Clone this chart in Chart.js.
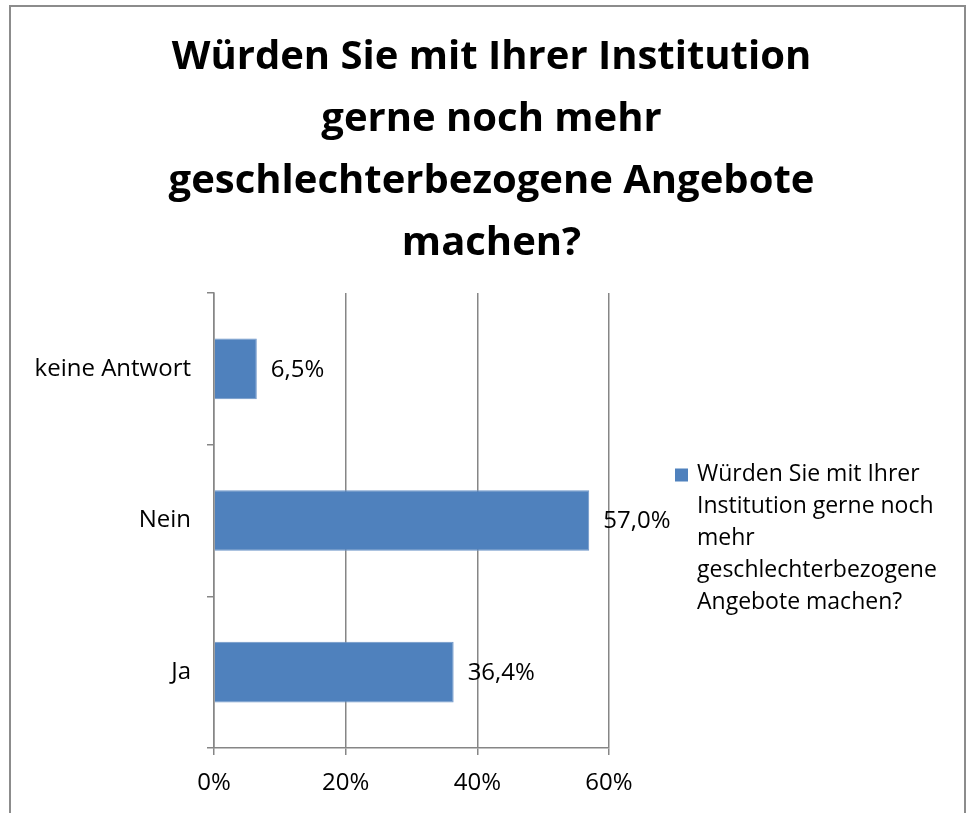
<!DOCTYPE html>
<html>
<head>
<meta charset="utf-8">
<script src="https://cdn.jsdelivr.net/npm/chart.js@4.4.0/dist/chart.umd.min.js"></script>
<style>
  html, body { margin: 0; padding: 0; background: #fff; overflow: hidden; }
  #box { position: absolute; left: 9px; top: 5px; width: 953px; height: 830px; border: 2px solid #8c8c8c; background: #fff; }
  canvas { display: block; }
</style>
</head>
<body>
<div id="box"><canvas id="chart" width="953" height="806"></canvas></div>
<script>
const titleLines = ["Würden Sie mit Ihrer Institution", "gerne noch mehr", "geschlechterbezogene Angebote", "machen?"];
const categories = ["keine Antwort", "Nein", "Ja"];
const values = [6.5, 57.0, 36.4];
const seriesName = "Würden Sie mit Ihrer Institution gerne noch mehr geschlechterbezogene Angebote machen?";
const legendLines = ["Würden Sie mit Ihrer", "Institution gerne noch", "mehr", "geschlechterbezogene", "Angebote machen?"];
const xTicks = [0, 20, 40, 60];

const FONT = "'Open Sans', 'Noto Sans', sans-serif";
const GRID = "#868686";
const BAR = "#4f81bd";

const fmt = (v) => v.toFixed(1).replace(".", ",") + "%";

// value labels right of each bar
const valueLabels = {
  id: "valueLabels",
  afterDatasetsDraw(chart) {
    const ctx = chart.ctx;
    const meta = chart.getDatasetMeta(0);
    ctx.save();
    ctx.font = "24px " + FONT;
    ctx.fillStyle = "#000";
    ctx.textBaseline = "middle";
    ctx.textAlign = "left";
    meta.data.forEach((bar, i) => {
      ctx.fillText(fmt(chart.data.datasets[0].data[i]), bar.x + 14, bar.y + 1);
    });
    ctx.restore();
  },
};

// legend with wrapped text on the right
const sideLegend = {
  id: "sideLegend",
  afterDraw(chart) {
    const ctx = chart.ctx;
    const a = chart.chartArea;
    const x = a.right + 66;
    const y = (a.top + a.bottom) / 2 - 46;
    ctx.save();
    ctx.fillStyle = BAR;
    ctx.fillRect(x, y - 6, 13, 13);
    ctx.font = "23px " + FONT;
    ctx.fillStyle = "#000";
    ctx.textBaseline = "middle";
    legendLines.forEach((line, i) => {
      ctx.fillText(line, x + 22, y + i * 32);
    });
    ctx.restore();
  },
};

new Chart(document.getElementById("chart"), {
  type: "bar",
  data: {
    labels: categories,
    datasets: [
      {
        label: seriesName,
        data: values,
        backgroundColor: BAR,
        borderColor: "#6d95c8",
        borderWidth: 1,
        barPercentage: 0.4,
        categoryPercentage: 1,
      },
    ],
  },
  options: {
    indexAxis: "y",
    responsive: false,
    animation: false,
    layout: { padding: { left: 8 } },
    plugins: {
      legend: { display: false },
      tooltip: { enabled: false },
      title: {
        display: true,
        text: titleLines,
        color: "#000",
        font: { family: FONT, size: 40, weight: "bold", lineHeight: "62px" },
        padding: { top: 20, bottom: 18 },
      },
    },
    scales: {
      x: {
        min: 0,
        max: 60,
        afterBuildTicks: (scale) => {
          scale.ticks = xTicks.map((v) => ({ value: v }));
        },
        afterFit: (scale) => {
          scale.height = 65;
        },
        grid: {
          color: GRID,
          lineWidth: 1.5,
          tickLength: 7,
        },
        border: { color: GRID, width: 1.5 },
        ticks: {
          color: "#000",
          padding: 14,
          font: { family: FONT, size: 24 },
          callback: (v) => v + "%",
        },
      },
      y: {
        afterFit: (scale) => {
          scale.width = 195;
        },
        grid: {
          offset: true,
          drawOnChartArea: false,
          color: GRID,
          lineWidth: 1.5,
          tickLength: 7,
        },
        border: { color: GRID, width: 1.5 },
        ticks: {
          color: "#000",
          padding: 16,
          font: { family: FONT, size: 24 },
        },
      },
      // empty right-hand axis that keeps room for the legend
      y2: {
        type: "category",
        labels: categories,
        position: "right",
        afterFit: (scale) => {
          scale.width = 355;
        },
        grid: { display: false },
        border: { display: false },
        ticks: { display: false },
      },
    },
  },
  plugins: [valueLabels, sideLegend],
});
</script>
</body>
</html>
